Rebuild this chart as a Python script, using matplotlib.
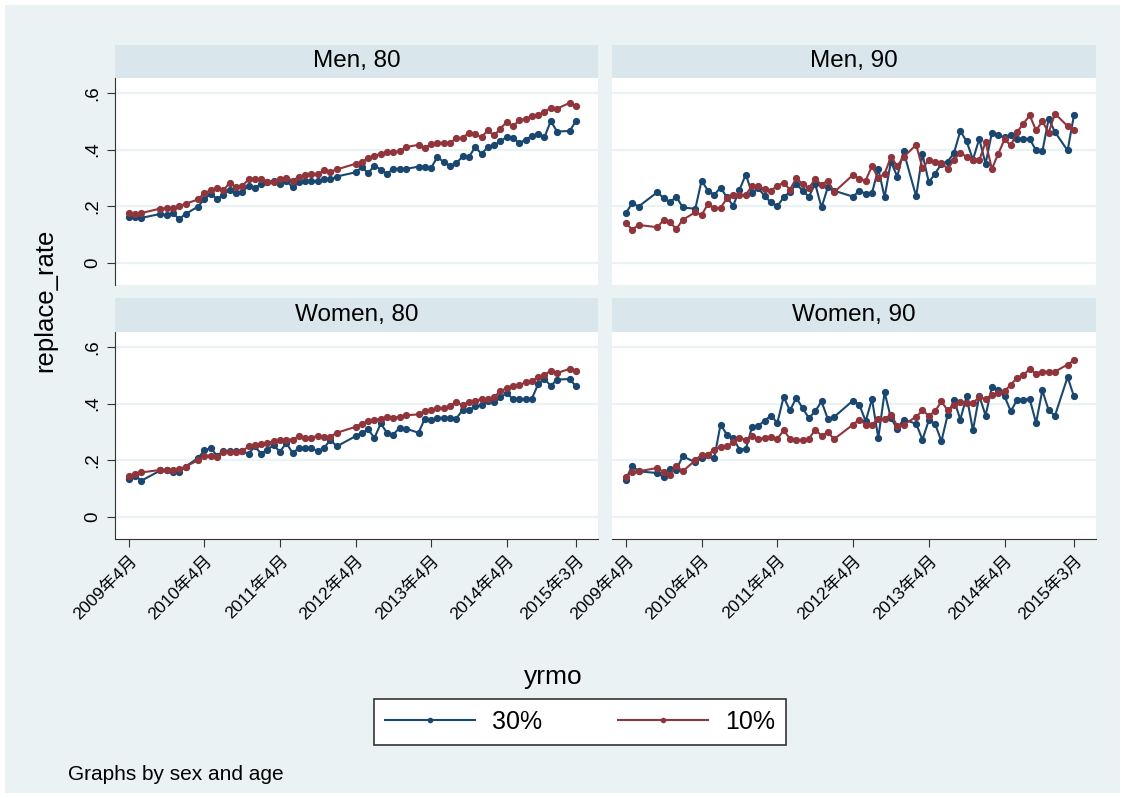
import pandas as pd
import matplotlib
matplotlib.use('Agg')
import matplotlib.pyplot as plt
from matplotlib.patches import Rectangle
from matplotlib.lines import Line2D

plt.rcParams['font.family'] = ['Liberation Sans', 'Noto Sans CJK JP']

# months in the data (a few months are absent from the file)
missing = ['2009-07', '2009-08', '2010-02', '2012-02', '2012-03', '2013-01', '2015-01']
yrmo = [p for p in pd.period_range('2009-04', '2015-03', freq='M') if str(p) not in missing]

tick_months = ['2009-04', '2010-04', '2011-04', '2012-04', '2013-04', '2014-04', '2015-03']
tick_labels = ['2009年4月', '2010年4月', '2011年4月', '2012年4月', '2013年4月', '2014年4月', '2015年3月']

panel_titles = ['Men, 80', 'Men, 90', 'Women, 80', 'Women, 90']
series_names = ['30%', '10%']

men80_30 = [0.163, 0.163, 0.159, 0.173, 0.169, 0.175, 0.155, 0.173,
            0.199, 0.226, 0.244, 0.226, 0.240, 0.258, 0.246, 0.250, 0.273, 0.265, 0.279, 0.285, 0.289, 0.277,
            0.291, 0.267, 0.285, 0.289, 0.289, 0.289, 0.295, 0.295, 0.305,
            0.320, 0.338, 0.317, 0.344, 0.329, 0.315, 0.332, 0.332, 0.332,
            0.340, 0.340, 0.336, 0.374, 0.356, 0.344, 0.352, 0.376, 0.374, 0.409, 0.385, 0.409, 0.415, 0.430,
            0.444, 0.442, 0.423, 0.435, 0.448, 0.454, 0.444, 0.501, 0.464,
            0.466, 0.501]
men80_10 = [0.175, 0.173, 0.176, 0.192, 0.194, 0.195, 0.200, 0.209,
            0.224, 0.248, 0.256, 0.263, 0.256, 0.283, 0.268, 0.271, 0.295, 0.295, 0.295, 0.287, 0.287, 0.298,
            0.301, 0.291, 0.303, 0.310, 0.315, 0.313, 0.327, 0.322, 0.330,
            0.350, 0.356, 0.371, 0.379, 0.385, 0.391, 0.391, 0.395, 0.409,
            0.417, 0.405, 0.421, 0.424, 0.424, 0.423, 0.441, 0.442, 0.459, 0.454, 0.444, 0.468, 0.450, 0.474,
            0.498, 0.483, 0.503, 0.509, 0.518, 0.523, 0.533, 0.548, 0.545,
            0.565, 0.553]
men90_30 = [0.176, 0.211, 0.199, 0.250, 0.228, 0.214, 0.234, 0.196,
            0.191, 0.291, 0.255, 0.240, 0.266, 0.232, 0.202, 0.258, 0.312, 0.246, 0.264, 0.235, 0.214, 0.200,
            0.232, 0.250, 0.279, 0.255, 0.234, 0.279, 0.196, 0.267, 0.255,
            0.234, 0.255, 0.244, 0.247, 0.332, 0.232, 0.358, 0.305, 0.394,
            0.235, 0.385, 0.285, 0.315, 0.350, 0.358, 0.389, 0.466, 0.429, 0.365, 0.438, 0.350, 0.460, 0.450,
            0.444, 0.453, 0.438, 0.438, 0.438, 0.397, 0.394, 0.509, 0.462,
            0.397, 0.521]
men90_10 = [0.141, 0.117, 0.134, 0.126, 0.152, 0.143, 0.120, 0.152,
            0.179, 0.169, 0.208, 0.193, 0.194, 0.228, 0.240, 0.240, 0.240, 0.273, 0.270, 0.261, 0.255, 0.273,
            0.283, 0.259, 0.299, 0.279, 0.264, 0.297, 0.276, 0.291, 0.250,
            0.311, 0.297, 0.291, 0.342, 0.299, 0.315, 0.374, 0.342, 0.374,
            0.417, 0.335, 0.362, 0.358, 0.353, 0.332, 0.365, 0.389, 0.374, 0.362, 0.362, 0.427, 0.332, 0.385,
            0.436, 0.415, 0.462, 0.492, 0.521, 0.468, 0.500, 0.460, 0.527,
            0.483, 0.470]
women80_30 = [0.134, 0.145, 0.128, 0.164, 0.164, 0.160, 0.157, 0.178,
              0.208, 0.235, 0.243, 0.216, 0.232, 0.232, 0.232, 0.232, 0.223, 0.249, 0.223, 0.238, 0.253, 0.230,
              0.261, 0.226, 0.243, 0.243, 0.243, 0.232, 0.243, 0.273, 0.249,
              0.285, 0.297, 0.309, 0.279, 0.330, 0.297, 0.291, 0.315, 0.312,
              0.297, 0.347, 0.342, 0.350, 0.350, 0.350, 0.347, 0.378, 0.378, 0.390, 0.395, 0.410, 0.405, 0.422,
              0.437, 0.416, 0.416, 0.416, 0.418, 0.469, 0.487, 0.463, 0.485,
              0.487, 0.461]
women80_10 = [0.145, 0.152, 0.157, 0.166, 0.166, 0.166, 0.169, 0.178,
              0.200, 0.216, 0.216, 0.211, 0.228, 0.228, 0.228, 0.232, 0.249, 0.253, 0.259, 0.262, 0.267, 0.273,
              0.273, 0.273, 0.285, 0.279, 0.279, 0.287, 0.283, 0.283, 0.297,
              0.318, 0.329, 0.338, 0.342, 0.347, 0.354, 0.350, 0.354, 0.359,
              0.362, 0.374, 0.376, 0.386, 0.384, 0.392, 0.406, 0.394, 0.406, 0.410, 0.416, 0.416, 0.422, 0.445,
              0.454, 0.461, 0.466, 0.475, 0.481, 0.493, 0.501, 0.517, 0.508,
              0.523, 0.514]
women90_30 = [0.132, 0.181, 0.161, 0.155, 0.140, 0.169, 0.167, 0.214,
              0.193, 0.208, 0.220, 0.208, 0.326, 0.291, 0.279, 0.238, 0.240, 0.318, 0.322, 0.340, 0.358, 0.332,
              0.424, 0.376, 0.420, 0.385, 0.349, 0.373, 0.408, 0.346, 0.353,
              0.411, 0.396, 0.338, 0.416, 0.279, 0.440, 0.349, 0.311, 0.344,
              0.329, 0.273, 0.341, 0.329, 0.267, 0.361, 0.412, 0.344, 0.426, 0.306, 0.428, 0.358, 0.459, 0.449,
              0.426, 0.373, 0.414, 0.414, 0.416, 0.332, 0.447, 0.376, 0.358,
              0.494, 0.426]
women90_10 = [0.141, 0.158, 0.161, 0.173, 0.158, 0.149, 0.181, 0.161,
              0.200, 0.220, 0.220, 0.238, 0.247, 0.249, 0.264, 0.279, 0.273, 0.285, 0.275, 0.279, 0.282, 0.275,
              0.306, 0.276, 0.271, 0.273, 0.275, 0.308, 0.287, 0.299, 0.275,
              0.326, 0.344, 0.326, 0.326, 0.346, 0.346, 0.361, 0.322, 0.326,
              0.353, 0.376, 0.358, 0.373, 0.408, 0.376, 0.396, 0.405, 0.402, 0.402, 0.424, 0.416, 0.432, 0.438,
              0.444, 0.467, 0.491, 0.502, 0.522, 0.506, 0.513, 0.513, 0.513,
              0.538, 0.553]

panel_data = [(men80_30, men80_10), (men90_30, men90_10),
              (women80_30, women80_10), (women90_30, women90_10)]

navy = '#1a476f'
maroon = '#90353b'
bg = '#eaf2f3'
strip = '#d9e6eb'

W, H = 1125, 798
def box(l, t, r, b):
    return [l / W, 1 - b / H, (r - l) / W, (b - t) / H]

fig = plt.figure(figsize=(W / 100, H / 100), dpi=100, facecolor='white')
fig.patches.append(Rectangle((5 / W, 5 / H), 1 - 10 / W, 1 - 10 / H, transform=fig.transFigure,
                             facecolor=bg, edgecolor='none', zorder=-10))

x = [p.ordinal for p in yrmo]
xt = [pd.Period(m, freq='M').ordinal for m in tick_months]
cols = [(115, 598), (612, 1096)]
rows = [(45, 78, 285), (298, 332, 539)]

for i, title in enumerate(panel_titles):
    r, c = divmod(i, 2)
    l, rr = cols[c]
    st, t, b = rows[r]
    sax = fig.add_axes(box(l, st, rr, t))
    sax.set_facecolor(strip)
    sax.set_xticks([]); sax.set_yticks([])
    for s in sax.spines.values():
        s.set_visible(False)
    sax.text(0.5, 0.5, title, ha='center', va='center', fontsize=17.5, transform=sax.transAxes)

    ax = fig.add_axes(box(l, t, rr, b))
    ax.set_facecolor('white')
    y30, y10 = panel_data[i]
    ax.plot(x, y30, color=navy, lw=1.5, marker='o', ms=4.2, zorder=3)
    ax.plot(x, y10, color=maroon, lw=1.5, marker='o', ms=4.2, zorder=3)
    ax.set_xlim(x[0] - 2.2, x[-1] + 3.5)
    ax.set_ylim(-0.078, 0.653)
    ax.set_yticks([0, 0.2, 0.4, 0.6])
    ax.grid(axis='y', color=bg, lw=1.6, zorder=0)
    ax.set_xticks(xt)
    for s in ['top', 'right']:
        ax.spines[s].set_visible(False)
    ax.spines['left'].set_visible(c == 0)
    ax.spines['bottom'].set_visible(r == 1)
    ax.spines['left'].set_color('#333333')
    ax.spines['bottom'].set_color('#333333')
    if c == 0:
        ax.set_yticklabels(['0', '.2', '.4', '.6'], rotation=90, va='center', fontsize=13.5)
        ax.tick_params(axis='y', length=6, color='#333333', pad=4)
    else:
        ax.tick_params(axis='y', length=0, labelleft=False)
    if r == 1:
        ax.set_xticklabels(tick_labels, rotation=45, ha='right', rotation_mode='anchor', fontsize=12.5)
        ax.tick_params(axis='x', length=6, color='#333333', pad=4)
    else:
        ax.tick_params(axis='x', length=0, labelbottom=False)

fig.text(45 / W, 1 - 300 / H, 'replace_rate', rotation=90, ha='center', va='center', fontsize=18.5)
fig.text(553 / W, 1 - 677 / H, 'yrmo', ha='center', va='center', fontsize=19)
fig.text(68 / W, 1 - 775 / H, 'Graphs by sex and age', ha='left', va='center', fontsize=15)

handles = [Line2D([], [], color=navy, lw=1.5, marker='o', ms=3),
           Line2D([], [], color=maroon, lw=1.5, marker='o', ms=3)]
leg = fig.legend(handles, series_names, loc='center', bbox_to_anchor=(580 / W, 1 - 722 / H), ncol=2,
                 fontsize=18, handlelength=3.6, columnspacing=3.0, handletextpad=0.7, numpoints=1,
                 fancybox=False, edgecolor='#333333', framealpha=1, borderpad=0.45)
leg.get_frame().set_linewidth(1.2)

plt.savefig('out.png', dpi=100, facecolor=fig.get_facecolor())
